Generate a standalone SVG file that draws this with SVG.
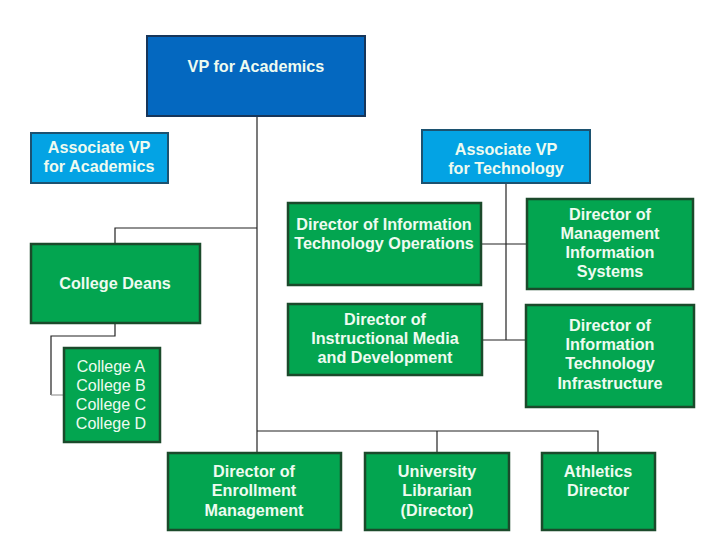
<svg xmlns="http://www.w3.org/2000/svg" width="720" height="540" viewBox="0 0 720 540">
<style>
.vp{fill:#0468c0;stroke:#17365a;stroke-width:2}
.avp{fill:#03a3e4;stroke:#1c5270;stroke-width:2}
.g{fill:#03a550;stroke:#1b4a2b;stroke-width:2.5}
.t{font-family:"Liberation Sans",Arial,sans-serif;font-size:16.2px;font-weight:bold;fill:#eefbf0;text-anchor:middle}
.n{font-family:"Liberation Sans",Arial,sans-serif;font-size:16px;fill:#eefbf0;text-anchor:middle}
.c{fill:none;stroke:#222;stroke-width:1.2}
</style>
<rect width="720" height="540" fill="#fff"/>
<g id="connectors">
<path class="c" d="M257 116 V431"/>
<path class="c" d="M257 228 H115 V244"/>
<path class="c" d="M115 323 V336 H51 V395"/>
<path d="M51 395 H64" fill="none" stroke="#999" stroke-width="1.2"/>
<path class="c" d="M506 183 V340"/>
<path class="c" d="M481 244 H527"/>
<path class="c" d="M482 340 H526"/>
<path class="c" d="M257 431 H598 V453"/>
<path class="c" d="M257 431 V453"/>
<path class="c" d="M437 431 V453"/>
</g>
<g id="vp"><rect class="vp" x="147" y="36" width="218" height="80"/><text class="t" x="256" y="72">VP for Academics</text></g>
<g id="avp-acad"><rect class="avp" x="31" y="133" width="137" height="50"/><text class="t" x="99" y="153">Associate VP</text><text class="t" x="99" y="172">for Academics</text></g>
<g id="avp-tech"><rect class="avp" x="422" y="130" width="168" height="53"/><text class="t" x="506" y="155">Associate VP</text><text class="t" x="506" y="174">for Technology</text></g>
<g id="deans"><rect class="g" x="31" y="244" width="169" height="79"/><text class="t" x="115" y="289">College Deans</text></g>
<g id="colleges"><rect class="g" x="64" y="348" width="96" height="94"/><text class="n" x="111" y="372">College A</text><text class="n" x="111" y="391">College B</text><text class="n" x="111" y="410">College C</text><text class="n" x="111" y="429">College D</text></g>
<g id="it-ops"><rect class="g" x="288" y="203" width="193" height="82"/><text class="t" x="384" y="230">Director of Information</text><text class="t" x="384" y="249">Technology Operations</text></g>
<g id="mis"><rect class="g" x="527" y="199" width="166" height="90"/><text class="t" x="610" y="220">Director of</text><text class="t" x="610" y="239">Management</text><text class="t" x="610" y="258">Information</text><text class="t" x="610" y="277">Systems</text></g>
<g id="media"><rect class="g" x="288" y="304" width="194" height="71"/><text class="t" x="385" y="325">Director of</text><text class="t" x="385" y="344">Instructional Media</text><text class="t" x="385" y="363">and Development</text></g>
<g id="infra"><rect class="g" x="526" y="305" width="168" height="102"/><text class="t" x="610" y="331">Director of</text><text class="t" x="610" y="350">Information</text><text class="t" x="610" y="369">Technology</text><text class="t" x="610" y="389">Infrastructure</text></g>
<g id="enroll"><rect class="g" x="168" y="453" width="173" height="77"/><text class="t" x="254" y="477">Director of</text><text class="t" x="254" y="496">Enrollment</text><text class="t" x="254" y="516">Management</text></g>
<g id="lib"><rect class="g" x="365" y="453" width="144" height="77"/><text class="t" x="437" y="477">University</text><text class="t" x="437" y="496">Librarian</text><text class="t" x="437" y="516">(Director)</text></g>
<g id="athletics"><rect class="g" x="542" y="453" width="113" height="77"/><text class="t" x="598" y="477">Athletics</text><text class="t" x="598" y="496">Director</text></g>
</svg>
